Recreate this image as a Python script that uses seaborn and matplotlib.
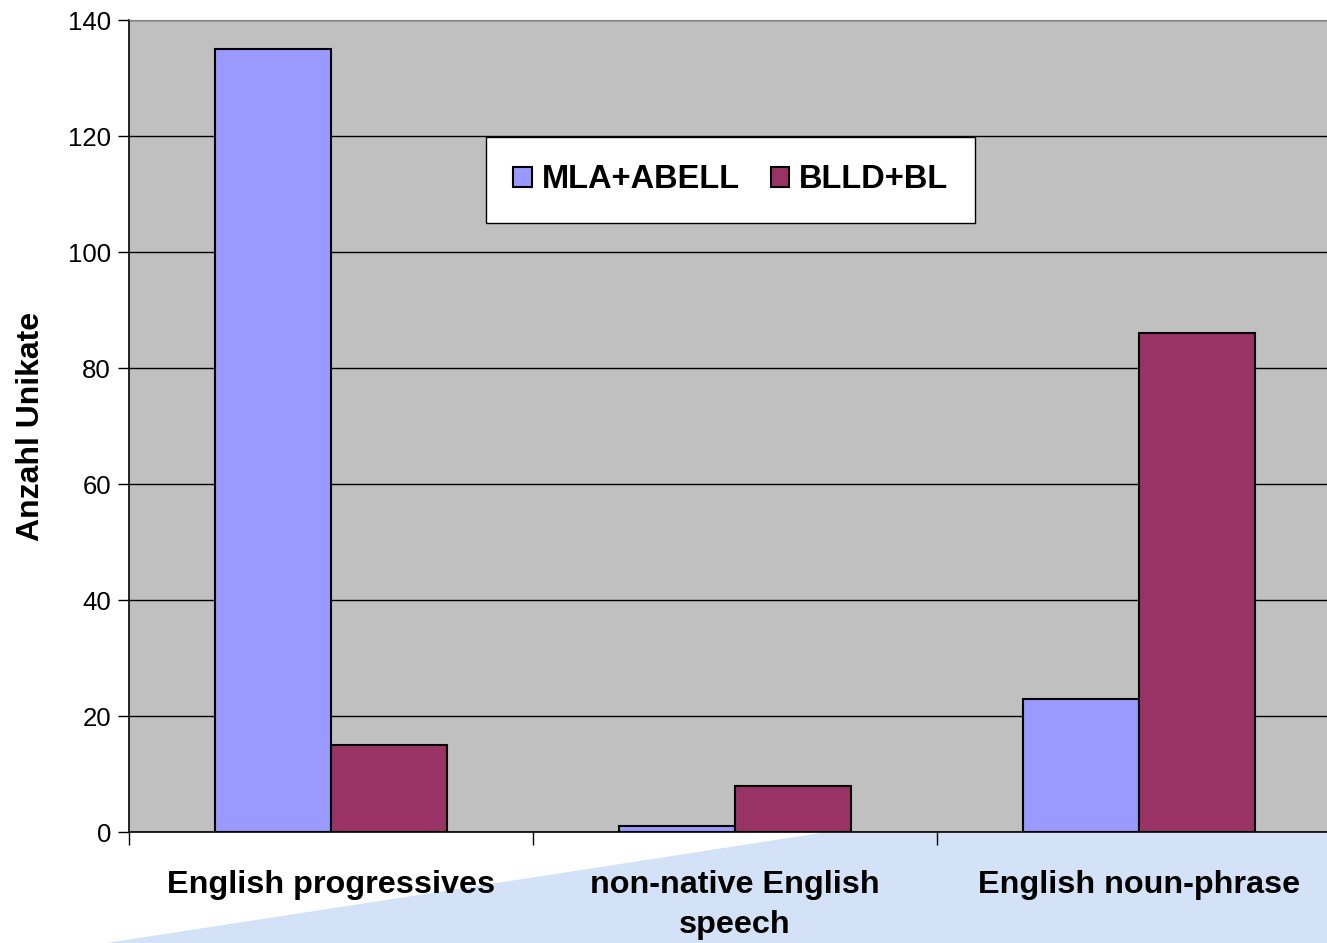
import pandas as pd
import matplotlib.pyplot as plt
import seaborn as sns
from matplotlib.patches import Polygon

# Data
categories = ["English progressives", "non-native English\nspeech", "English noun-phrase"]
series = ["MLA+ABELL", "BLLD+BL"]
mla_abell = [135, 1, 23]
blld_bl = [15, 8, 86]

df = pd.DataFrame({
    "Category": categories * 2,
    "Source": [series[0]] * 3 + [series[1]] * 3,
    "Count": mla_abell + blld_bl,
})

sns.set_style("white")
plt.rcParams["font.family"] = ["Liberation Sans", "DejaVu Sans"]
plt.rcParams["text.color"] = "black"
plt.rcParams["xtick.color"] = "black"
plt.rcParams["ytick.color"] = "black"
plt.rcParams["axes.labelcolor"] = "black"

fig = plt.figure(figsize=(13.27, 9.43), dpi=100)
# light blue swoosh behind the lower part of the slide
fig.patches.append(Polygon([(0.08, 0.0), (0.45, 0.08), (0.62, 0.117), (1.0, 0.117), (1.0, 0.0)],
                           closed=True, transform=fig.transFigure,
                           facecolor="#d3e2f6", edgecolor="none", zorder=-1))
ax = fig.add_axes([129 / 1327, 1 - 832 / 943, 1 - 129 / 1327, 812 / 943])
ax.set_facecolor("#c0c0c0")

sns.barplot(data=df, x="Category", y="Count", hue="Source",
            palette=["#9999ff", "#993366"], width=0.574, saturation=1,
            edgecolor="black", linewidth=1.5, ax=ax, zorder=3)

ax.set_ylim(0, 140)
ax.set_xlim(-0.5, (1327 - 129) / 404 - 0.5)
ax.set_yticks(range(0, 141, 20))
ax.yaxis.grid(True, color="black", linewidth=1)
ax.set_axisbelow(True)
ax.tick_params(axis="y", labelsize=18.5, length=8, width=1, direction="out", left=True, pad=5)
ax.set_xticks([0, 1, 2])
ax.set_xticklabels(categories, fontsize=23.3, fontweight="bold", linespacing=1.45)
ax.tick_params(axis="x", which="major", length=0, pad=27)
ax.set_xticks([-0.5, 0.5, 1.5], minor=True)
ax.tick_params(axis="x", which="minor", length=9, width=1, direction="out", bottom=True)

ax.set_xlabel("")
ax.set_ylabel("Anzahl Unikate", fontsize=23, fontweight="bold", labelpad=16)

for s in ["left", "bottom"]:
    ax.spines[s].set_color("black")
    ax.spines[s].set_linewidth(1.2)
ax.spines["top"].set_color("#808080")
ax.spines["right"].set_visible(False)

leg = ax.legend(loc="upper left", bbox_to_anchor=((486 - 129) / 1198, 1 - (137 - 20) / 812),
                ncol=2, frameon=True, fancybox=False,
                prop={"weight": "bold", "size": 23.5}, handlelength=0.56, handleheight=0.56,
                handletextpad=0.3, columnspacing=0.95, borderpad=0.84, borderaxespad=0)
leg.get_frame().set_edgecolor("black")
leg.get_frame().set_linewidth(1)
leg.get_frame().set_facecolor("white")
leg.get_frame().set_alpha(1)

fig.savefig("out.png", dpi=100)
